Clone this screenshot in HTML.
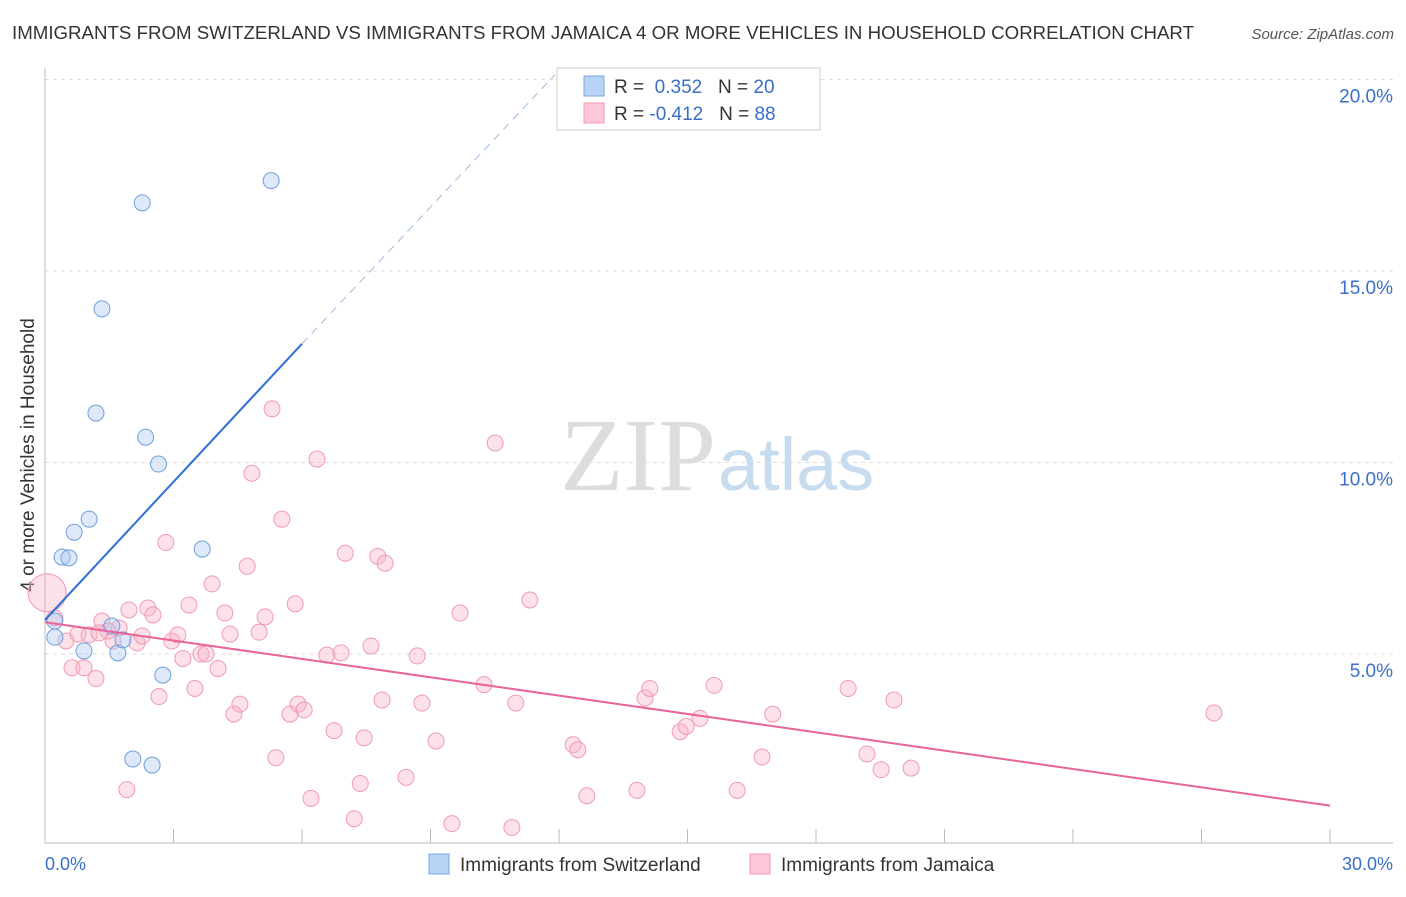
<!DOCTYPE html>
<html><head><meta charset="utf-8"><style>
body{margin:0;background:#fff;font-family:"Liberation Sans",sans-serif}
</style></head><body>
<svg width="1406" height="892" xmlns="http://www.w3.org/2000/svg" font-family="Liberation Sans, sans-serif">
<text x="12" y="39" font-size="18" fill="#333" textLength="1182" lengthAdjust="spacingAndGlyphs">IMMIGRANTS FROM SWITZERLAND VS IMMIGRANTS FROM JAMAICA 4 OR MORE VEHICLES IN HOUSEHOLD CORRELATION CHART</text>
<text x="1394" y="39" font-size="15" fill="#555" font-style="italic" text-anchor="end">Source: ZipAtlas.com</text>
<g id="grid"></g>
<text x="716" y="490" font-size="104" fill="#ddd" text-anchor="end" font-family="Liberation Serif, serif">ZIP</text>
<text x="718" y="490" font-size="74" fill="#c8dcf0">atlas</text>
<text transform="translate(34,455) rotate(-90)" font-size="19" fill="#333" text-anchor="middle">4 or more Vehicles in Household</text>
<text x="45" y="870" font-size="18" fill="#3a6fc9">0.0%</text>
<text x="1393" y="870" font-size="18" fill="#3a6fc9" text-anchor="end">30.0%</text>
<g id="marks"></g>
<g>
<rect x="557" y="68" width="263" height="62" fill="#fff" stroke="#ccc"/>
<rect x="584" y="76" width="20" height="20" fill="#b8d4f5" stroke="#7aa8e0"/>
<rect x="584" y="103" width="20" height="20" fill="#fcc8d8" stroke="#f09ab5"/>
<text x="614" y="93" font-size="19" fill="#333">R = <tspan fill="#3a6fc9">&#160;0.352</tspan>&#160;&#160;&#160;N = <tspan fill="#3a6fc9">20</tspan></text>
<text x="614" y="120" font-size="19" fill="#333">R = <tspan fill="#3a6fc9">-0.412</tspan>&#160;&#160;&#160;N = <tspan fill="#3a6fc9">88</tspan></text>
</g>
<g>
<rect x="429" y="854" width="20" height="20" fill="#b8d4f5" stroke="#7aa8e0"/>
<text x="460" y="871" font-size="19" fill="#333">Immigrants from Switzerland</text>
<rect x="750" y="854" width="20" height="20" fill="#fcc8d8" stroke="#f09ab5"/>
<text x="781" y="871" font-size="19" fill="#333">Immigrants from Jamaica</text>
</g>
</svg>
<script>
const yTicks=[5,10,15,20];
const xTicks=[0,3,6,9,12,15,18,21,24,27,30];
const blueX=[2.27,5.28,1.33,1.19,2.35,2.65,1.03,0.68,0.40,0.56,3.67,0.23,0.23,0.91,1.56,1.70,1.82,2.75,2.05,2.50];
const blueY=[16.78,17.36,14.01,11.29,10.66,9.96,8.52,8.18,7.53,7.51,7.74,5.86,5.44,5.08,5.73,5.03,5.37,4.45,2.26,2.10];
const pinkX=[0.05,0.23,0.49,0.63,0.91,1.19,0.77,1.03,1.33,1.47,1.59,1.73,1.96,2.15,2.27,2.40,2.52,2.82,2.96,3.10,3.22,3.36,3.50,2.66,1.91,3.64,3.76,3.90,4.04,4.20,4.32,4.41,4.55,4.72,4.83,5.00,5.14,5.30,5.53,5.39,5.72,5.84,5.91,6.05,6.21,6.35,6.58,6.75,6.91,7.01,7.22,7.36,7.45,7.61,7.77,7.87,7.94,8.43,8.69,8.80,9.13,9.50,9.69,10.25,10.51,10.90,10.99,11.32,12.33,12.44,12.65,13.82,14.01,14.12,14.83,14.97,15.29,15.62,16.16,16.74,16.99,18.75,19.19,19.52,19.82,20.22,27.29,1.26];
const pinkY=[6.60,5.94,5.34,4.64,4.64,4.36,5.52,5.50,5.86,5.60,5.34,5.68,6.15,5.29,5.47,6.20,6.02,7.91,5.34,5.50,4.88,6.28,4.10,3.89,1.46,5.00,5.00,6.83,4.62,6.07,5.52,3.43,3.69,7.29,9.72,5.57,5.97,11.40,8.52,2.29,3.43,6.31,3.69,3.54,1.23,10.09,4.97,3.00,5.03,7.63,0.70,1.62,2.81,5.21,7.55,3.80,7.37,1.78,4.95,3.72,2.73,0.57,6.07,4.20,10.51,0.47,3.72,6.41,2.63,2.50,1.30,1.44,3.85,4.10,2.97,3.11,3.32,4.18,1.44,2.31,3.43,4.10,2.39,1.98,3.80,2.02,3.46,5.55];
const blueLine=[[0,5.89],[6,13.1]], blueDash=[[6,13.1],[11.9,20.12]];
const pinkLine=[[0,5.83],[30,1.04]];
const NS="http://www.w3.org/2000/svg";
const X=v=>45+v*1285/30, Y=v=>654-(v-5)*38.3;
const grid=document.getElementById('grid'), marks=document.getElementById('marks');
function mk(tag,attrs,parent){const e=document.createElementNS(NS,tag);for(const k in attrs)e.setAttribute(k,attrs[k]);parent.appendChild(e);return e;}
yTicks.forEach(t=>{
 const l=mk('line',{x1:45,x2:1393,y1:Y(t),y2:Y(t),stroke:'#ddd','stroke-dasharray':'4,4'},grid);
 
 
 const tx=mk('text',{x:1393,y:Y(t)+23,'font-size':19,fill:'#3a6fc9','text-anchor':'end'},grid);
 tx.textContent=t.toFixed(1)+'%';
 
 
});
const ax=mk('line',{x1:45,x2:45,y1:68,y2:843,stroke:'#bbb'},grid);


const bx=mk('line',{x1:45,x2:1393,y1:843,y2:843,stroke:'#bbb'},grid);


xTicks.forEach(t=>{
 const l=mk('line',{x1:X(t),x2:X(t),y1:829,y2:843,stroke:'#bbb'},grid);
 
 
});
pinkX.forEach((v,i)=>{
 const c=mk('circle',{cx:X(v),cy:Y(pinkY[i]),r:i===0?19:8,fill:'rgba(248,180,200,0.4)',stroke:'#f09ab5','stroke-width':1},marks);
 
 
});
blueX.forEach((v,i)=>{
 const c=mk('circle',{cx:X(v),cy:Y(blueY[i]),r:8,fill:'rgba(170,200,240,0.4)',stroke:'#6f9fdc','stroke-width':1},marks);
 
 
});
const bl=mk('line',{x1:X(blueLine[0][0]),y1:Y(blueLine[0][1]),x2:X(blueLine[1][0]),y2:Y(blueLine[1][1]),stroke:'#2e6fd6','stroke-width':2},marks);


const bd=mk('line',{x1:X(blueDash[0][0]),y1:Y(blueDash[0][1]),x2:X(blueDash[1][0]),y2:Y(blueDash[1][1]),stroke:'#9bbbe0','stroke-width':1,'stroke-dasharray':'8,6'},marks);


const pl=mk('line',{x1:X(pinkLine[0][0]),y1:Y(pinkLine[0][1]),x2:X(pinkLine[1][0]),y2:Y(pinkLine[1][1]),stroke:'#e8649a','stroke-width':2},marks);


</script>
</body></html>
